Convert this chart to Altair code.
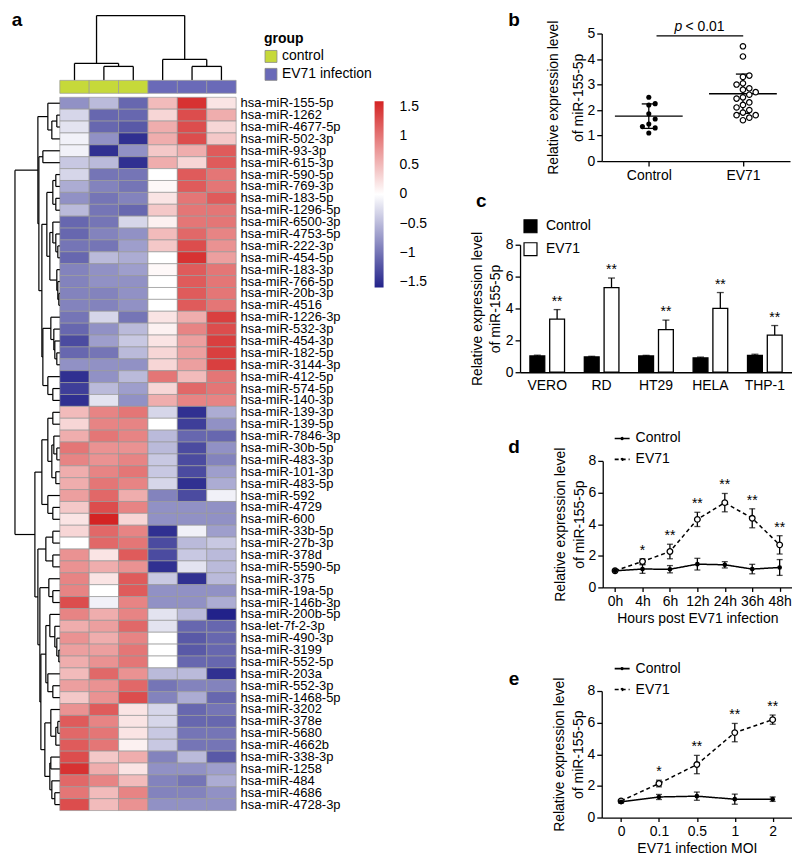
import altair as alt
import pandas as pd

FONT = "Liberation Sans"

# ---------------- panel a data ----------------
genes = ["hsa-miR-155-5p", "hsa-miR-1262", "hsa-miR-4677-5p", "hsa-miR-502-3p", "hsa-miR-93-3p",
         "hsa-miR-615-3p", "hsa-miR-590-5p", "hsa-miR-769-3p", "hsa-miR-183-5p", "hsa-miR-1296-5p",
         "hsa-miR-6500-3p", "hsa-miR-4753-5p", "hsa-miR-222-3p", "hsa-miR-454-5p", "hsa-miR-183-3p",
         "hsa-miR-766-5p", "hsa-miR-20b-3p", "hsa-miR-4516", "hsa-miR-1226-3p", "hsa-miR-532-3p",
         "hsa-miR-454-3p", "hsa-miR-182-5p", "hsa-miR-3144-3p", "hsa-miR-412-5p", "hsa-miR-574-5p",
         "hsa-miR-140-3p", "hsa-miR-139-3p", "hsa-miR-139-5p", "hsa-miR-7846-3p", "hsa-miR-30b-5p",
         "hsa-miR-483-3p", "hsa-miR-101-3p", "hsa-miR-483-5p", "hsa-miR-592", "hsa-miR-4729",
         "hsa-miR-600", "hsa-miR-33b-5p", "hsa-miR-27b-3p", "hsa-miR-378d", "hsa-miR-5590-5p",
         "hsa-miR-375", "hsa-miR-19a-5p", "hsa-miR-146b-3p", "hsa-miR-200b-5p", "hsa-let-7f-2-3p",
         "hsa-miR-490-3p", "hsa-miR-3199", "hsa-miR-552-5p", "hsa-miR-203a", "hsa-miR-552-3p",
         "hsa-miR-1468-5p", "hsa-miR-3202", "hsa-miR-378e", "hsa-miR-5680", "hsa-miR-4662b",
         "hsa-miR-338-3p", "hsa-miR-1258", "hsa-miR-484", "hsa-miR-4686", "hsa-miR-4728-3p"]
samples = ["C1", "C2", "C3", "E1", "E2", "E3"]
sample_groups = ["control", "control", "control", "EV71 infection", "EV71 infection", "EV71 infection"]
group_names = ["control", "EV71 infection"]

heat_values = [
    [-0.8, -0.5, -1.1, 0.5, 1.5, 0.2],
    [-0.3, -1.1, -1.1, 0.3, 1.3, 0.6],
    [-0.2, -1.1, -1.2, 0.6, 1.3, 0.3],
    [-0.1, -0.8, -1.5, 0.6, 1.3, 0.4],
    [-0.1, -1.5, -0.8, 0.4, 0.6, 1.2],
    [-0.4, -0.5, -1.5, 0.6, 0.3, 1.2],
    [-0.3, -1.0, -1.0, 0.0, 1.2, 1.0],
    [-0.6, -0.9, -1.0, 0.05, 1.2, 1.0],
    [-0.8, -1.0, -0.9, 0.2, 1.0, 1.2],
    [-0.5, -1.0, -1.1, 0.4, 1.0, 1.0],
    [-1.1, -1.0, -0.3, 0.1, 1.0, 1.0],
    [-1.1, -0.9, -0.8, 0.5, 1.1, 0.9],
    [-1.0, -1.0, -0.7, 0.4, 1.3, 0.8],
    [-1.1, -0.5, -0.6, 0.0, 1.5, 0.7],
    [-0.9, -0.8, -0.7, 0.05, 1.2, 1.0],
    [-0.9, -0.8, -0.8, 0.0, 1.2, 1.0],
    [-0.9, -0.9, -0.8, 0.0, 1.2, 1.0],
    [-0.9, -0.9, -0.8, 0.0, 1.2, 1.0],
    [-1.0, -0.3, -1.0, 0.2, 0.6, 1.4],
    [-1.1, -0.8, -0.5, 0.1, 0.9, 1.3],
    [-1.3, -0.7, -0.4, 0.2, 0.7, 1.4],
    [-1.1, -1.0, -0.5, 0.3, 0.7, 1.4],
    [-0.8, -0.8, -0.8, 0.3, 0.7, 1.4],
    [-1.5, -0.8, -0.5, 1.0, 0.5, 1.0],
    [-1.4, -0.5, -0.7, 0.3, 1.1, 1.0],
    [-1.5, -0.2, -0.8, 0.6, 0.9, 0.9],
    [0.5, 0.9, 1.0, -0.3, -1.5, -0.6],
    [0.3, 0.9, 0.9, 0.0, -1.4, -0.8],
    [0.6, 1.0, 0.9, -0.5, -1.1, -1.1],
    [1.0, 0.8, 0.8, -0.5, -1.3, -0.8],
    [0.9, 0.8, 0.9, -0.4, -1.3, -0.9],
    [0.6, 0.9, 1.0, -0.4, -1.3, -0.7],
    [0.6, 1.0, 0.9, -0.3, -1.5, -0.6],
    [0.7, 1.1, 0.6, -0.9, -1.3, -0.1],
    [0.4, 1.3, 0.9, -0.8, -0.8, -0.8],
    [0.2, 1.6, 0.3, -0.8, -0.8, -0.8],
    [0.3, 1.1, 0.9, -1.5, -0.1, -0.7],
    [0.0, 1.1, 1.0, -1.3, -0.5, -0.4],
    [0.8, 0.2, 1.2, -1.3, -0.4, -0.5],
    [0.8, 0.6, 0.8, -1.5, -0.2, -0.5],
    [0.9, 0.2, 1.2, -0.4, -1.5, -0.5],
    [0.9, 0.0, 1.2, -0.8, -0.8, -0.8],
    [1.3, -0.1, 0.9, -0.8, -0.8, -0.6],
    [0.9, 0.6, 0.9, -0.2, -0.5, -1.6],
    [0.6, 0.7, 1.1, -0.2, -1.1, -1.1],
    [0.8, 0.6, 0.9, 0.0, -1.2, -1.1],
    [0.7, 0.7, 1.0, 0.0, -1.2, -1.1],
    [0.6, 0.8, 1.0, 0.0, -1.1, -1.1],
    [0.5, 1.1, 0.8, -0.5, -0.5, -1.5],
    [0.7, 0.8, 1.1, -1.0, -0.9, -0.9],
    [0.4, 0.8, 1.3, -0.9, -0.6, -1.1],
    [0.8, 1.2, 0.2, -0.3, -1.1, -1.0],
    [1.2, 0.9, 0.2, -0.3, -1.1, -1.1],
    [1.1, 1.0, 0.2, -0.4, -1.0, -1.0],
    [1.2, 1.0, 0.1, -0.4, -1.0, -1.0],
    [1.3, 0.4, 0.6, -0.9, -0.5, -1.2],
    [1.5, 0.6, 0.2, -0.8, -0.8, -0.7],
    [1.1, 0.9, 0.5, -0.9, -1.0, -0.6],
    [1.0, 0.5, 0.9, -0.9, -0.9, -0.8],
    [1.3, 0.5, 0.8, -0.8, -0.8, -0.8],
]
legend_values = [-1.5, -1, -0.5, 0, 0.5, 1, 1.5]

# dendrograms: [left, right, merge height]; leaves are 1-based positions
row_top = [[1, [[2, 3, 3], 4, 8], 12],
           [[5, 6, 17],
            [[[[7, 8, 4], [9, 10, 4], 7],
              [[11, [12, [13, 14, 2], 4], 7], [15, [16, [17, 18, 1], 2], 3], 10], 13],
             [[19, [20, [21, [22, 23, 3], 5], 6], 9], [24, [25, 26, 7], 12], 17], 18], 21], 22]
row_bottom = [[[[27, 28, 7], [[29, [30, 31, 3], 6], [32, 33, 4], 8], 12], [34, [35, 36, 7], 12], 18],
              [[[37, 38, 7], [39, 40, 7], 14],
               [[41, [42, 43, 7], 11],
                [[[44, [45, [46, [47, 48, 1], 3], 5], 10], [49, [50, 51, 7], 12], 14],
                 [[52, [[53, 54, 2], 55, 4], 9], [[56, 57, 9], [58, [59, 60, 5], 8], 10], 15], 19],
                20], 22], 25]
row_tree = [row_top, row_bottom, 45]
col_tree = [[1, [2, 3, 14], 17], [4, [5, 6, 14], 21], 65]

# ---------------- panel b data ----------------
b_groups = ["Control", "EV71"]
b_control = [2.5, 2.25, 2.2, 1.85, 1.65, 1.45, 1.35, 1.3, 1.1]
b_ev71 = [4.5, 4.1, 3.35, 3.3, 3.05, 3.0, 2.85, 2.8, 2.7, 2.6, 2.5, 2.45, 2.3, 2.2, 2.1,
          2.0, 1.9, 1.8, 1.8, 1.7, 1.6]
b_mean = [1.76, 2.64]
b_sd = [0.48, 0.77]

# ---------------- panel c data ----------------
c_cells = ["VERO", "RD", "HT29", "HELA", "THP-1"]
c_control = [1.02, 0.96, 1.02, 0.9, 1.06]
c_control_err = [0.05, 0.04, 0.04, 0.05, 0.07]
c_ev71 = [3.33, 5.31, 2.67, 4.0, 2.33]
c_ev71_err = [0.6, 0.6, 0.6, 1.0, 0.6]
c_sig = ["**", "**", "**", "**", "**"]

# ---------------- panel d data ----------------
d_times = ["0h", "4h", "6h", "12h", "24h", "36h", "48h"]
d_control = [1.05, 1.16, 1.15, 1.47, 1.43, 1.16, 1.26]
d_control_err = [0.05, 0.27, 0.23, 0.37, 0.2, 0.3, 0.5]
d_ev71 = [1.05, 1.64, 2.27, 4.3, 5.36, 4.37, 2.69]
d_ev71_err = [0.05, 0.17, 0.46, 0.45, 0.58, 0.6, 0.58]
d_sig = ["", "*", "**", "**", "**", "**", "**"]

# ---------------- panel e data ----------------
e_moi = ["0", "0.1", "0.5", "1", "2"]
e_control = [0.99, 1.3, 1.35, 1.16, 1.16]
e_control_err = [0.08, 0.16, 0.26, 0.32, 0.14]
e_ev71 = [1.05, 2.15, 3.35, 5.37, 6.19]
e_ev71_err = [0.08, 0.21, 0.58, 0.58, 0.29]
e_sig = ["", "*", "**", "**", "**"]


# ================= helpers =================
def spacer(w, h):
    return alt.Chart(pd.DataFrame({"s": [0]})).mark_point(opacity=0).encode(
        x=alt.value(0), y=alt.value(0)).properties(width=w, height=h)


def letter(t, px, py):
    return alt.Chart(pd.DataFrame({"t": [t]})).mark_text(
        font=FONT, fontSize=19, fontWeight="bold", align="center", baseline="middle", color="black"
    ).encode(text="t:N", x=alt.value(px), y=alt.value(py))


def dendro_segments(node, segs):
    if isinstance(node, int):
        return node - 0.5, 0.0
    a, b, h = node
    pa, ha = dendro_segments(a, segs)
    pb, hb = dendro_segments(b, segs)
    segs.append(dict(p1=pa, p2=pa, h1=ha, h2=h))
    segs.append(dict(p1=pb, p2=pb, h1=hb, h2=h))
    segs.append(dict(p1=pa, p2=pb, h1=h, h2=h))
    return (pa + pb) / 2, h


def yaxis(title, values, lh, pad, offset):
    return alt.Axis(title=title, values=values, grid=False, domainColor="black", domainWidth=1.3,
                    tickColor="black", tickWidth=1.3, tickSize=5, labelFontSize=14, labelColor="black",
                    labelFont=FONT, labelPadding=2, titleFontSize=14, titleFontWeight="normal",
                    titleColor="black", titleFont=FONT, titleLineHeight=lh, titlePadding=pad,
                    offset=offset)


def xaxis(title=None, **kw):
    props = dict(title=title, grid=False, domainColor="black", domainWidth=1.3, ticks=True,
                 tickColor="black", tickWidth=1.3, tickSize=4, labelFontSize=14, labelColor="black",
                 labelFont=FONT, labelAngle=0, labelPadding=3, titleFontSize=14,
                 titleFontWeight="normal", titleColor="black", titleFont=FONT, titlePadding=3)
    props.update(kw)
    return alt.Axis(**props)


def swarm(vals, ppu_y, ppu_x, d=6.4):
    order = sorted(range(len(vals)), key=lambda i: vals[i])
    cands = [0.0]
    for k in range(1, 8):
        cands += [k * d, -k * d]
    placed, offs = [], [0.0] * len(vals)
    for i in order:
        y = vals[i] * ppu_y
        for c in cands:
            if all((c - px) ** 2 + (y - py) ** 2 >= d * d for px, py in placed):
                placed.append((c, y))
                offs[i] = c / ppu_x
                break
    return offs


Y_TITLE = ["Relative expression level", "of miR-155-5p"]
FULL_W = 784

# ================= panel a (one layered chart) =================
A_X = [49, 226]          # heatmap columns
HEAT_Y = [88, 804]       # heatmap rows
heat_df = pd.DataFrame([dict(gene=g, sample=s, value=v)
                        for g, row in zip(genes, heat_values) for s, v in zip(samples, row)])
heatmap = alt.Chart(heat_df).mark_rect(stroke="#999999", strokeWidth=0.7).encode(
    x=alt.X("sample:N", sort=samples, axis=None,
            scale=alt.Scale(range=A_X, paddingInner=0, paddingOuter=0)),
    y=alt.Y("gene:N", sort=genes, scale=alt.Scale(range=HEAT_Y, paddingInner=0, paddingOuter=0),
            axis=alt.Axis(orient="right", title=None, ticks=False, domain=False, labelFontSize=13,
                          labelFont=FONT, labelColor="black", labelPadding=4, labelLimit=0)),
    color=alt.Color("value:Q",
                    scale=alt.Scale(domain=[-1.6, 0, 1.6], range=["#22228a", "#ffffff", "#d42424"],
                                    interpolate="rgb"),
                    legend=alt.Legend(orient="none", legendX=365, legendY=92, direction="vertical",
                                      gradientLength=187, gradientThickness=9, values=legend_values,
                                      labelExpr="replace(format(datum.value, '.1f'), '.0', '')",
                                      title=None, labelFontSize=14, labelFont=FONT,
                                      labelColor="black", labelOffset=16, gradientStrokeWidth=0)),
)

grp_df = pd.DataFrame(dict(sample=samples, group=sample_groups, bar=["group"] * 6))
group_bar = alt.Chart(grp_df).mark_rect(stroke="#999999", strokeWidth=0.7).encode(
    x=alt.X("sample:N", sort=samples, axis=None,
            scale=alt.Scale(range=A_X, paddingInner=0, paddingOuter=0)),
    y=alt.Y("bar:N", axis=None, scale=alt.Scale(range=[71, 84], paddingInner=0, paddingOuter=0)),
    fill=alt.Fill("group:N", scale=alt.Scale(domain=group_names, range=["#c6d93a", "#6a6ab8"]),
                  legend=alt.Legend(orient="none", legendX=254, legendY=23, title="group",
                                    titleFontSize=14, titleFontWeight="bold", titleFont=FONT,
                                    titleColor="black", titlePadding=3, labelFontSize=14,
                                    labelFont=FONT, labelColor="black", symbolType="square",
                                    symbolSize=144, symbolStrokeColor="#888888",
                                    symbolStrokeWidth=0.8, rowPadding=2, labelOffset=4)),
)

segs = []
dendro_segments(col_tree, segs)
col_seg_df = pd.DataFrame(segs)
top_dendro = alt.Chart(col_seg_df).mark_rule(color="black", strokeWidth=1.3).encode(
    x=alt.X("p1:Q", scale=alt.Scale(domain=[0, 6], range=A_X, nice=False, zero=False), axis=None),
    x2="p2:Q",
    y=alt.Y("h1:Q", scale=alt.Scale(domain=[0, 71], range=[71, 0], nice=False), axis=None),
    y2="h2:Q")

segs = []
dendro_segments(row_tree, segs)
row_seg_df = pd.DataFrame(segs)
left_dendro = alt.Chart(row_seg_df).mark_rule(color="black", strokeWidth=1.2).encode(
    y=alt.Y("p1:Q", scale=alt.Scale(domain=[0, 60], range=HEAT_Y, nice=False, zero=False), axis=None),
    y2="p2:Q",
    x=alt.X("h1:Q", scale=alt.Scale(domain=[0, 49], range=[49, 0], nice=False), axis=None),
    x2="h2:Q")

panel_a = alt.layer(top_dendro, group_bar, heatmap, left_dendro, letter("a", 6, 10)).resolve_scale(
    x="independent", y="independent", color="independent", fill="independent"
).properties(width=226, height=24)

# ================= panel b =================
b_rows = []
for name, vals, center in [("Control", b_control, 0.5), ("EV71", b_ev71, 1.5)]:
    for v, o in zip(vals, swarm(vals, 25.6, 94.5)):
        b_rows.append(dict(group=name, xpos=center + o, v=v))
b_pts = pd.DataFrame(b_rows)
b_sum = pd.DataFrame(dict(group=b_groups, xpos=[0.5, 1.5], mean=b_mean,
                          lo=[m - s for m, s in zip(b_mean, b_sd)],
                          hi=[m + s for m, s in zip(b_mean, b_sd)]))
b_sum["m1"] = b_sum["xpos"] - 0.36
b_sum["m2"] = b_sum["xpos"] + 0.36
b_sum["c1"] = b_sum["xpos"] - 0.075
b_sum["c2"] = b_sum["xpos"] + 0.075

B_X0 = 593
bx_scale = alt.Scale(domain=[0, 2], range=[B_X0, B_X0 + 189], nice=False, zero=False)
bx_axis = xaxis(values=[0.5, 1.5], labelExpr="datum.value < 1 ? 'Control' : 'EV71'", tickSize=5)
by = alt.Scale(domain=[0, 5], nice=False)
by_axis = yaxis(Y_TITLE, [0, 1, 2, 3, 4, 5], 25, 2, -B_X0)


def BX(f):
    return alt.X(f, scale=bx_scale, axis=bx_axis)


def BY(f):
    return alt.Y(f, scale=by, axis=by_axis)


b_annot = pd.DataFrame(dict(x1=[0.582], x2=[1.503], y=[4.91]))
b_ptxt = pd.DataFrame(dict(x=[0.815], y=[5.27], t=["p"]))
b_ltxt = pd.DataFrame(dict(x=[0.889], y=[5.27], t=["< 0.01"]))
panel_b = alt.layer(
    alt.Chart(b_sum).mark_rule(color="black", strokeWidth=1.4).encode(x=BX("m1:Q"), x2="m2:Q", y=BY("mean:Q")),
    alt.Chart(b_sum).mark_rule(color="black", strokeWidth=1.3).encode(x=BX("xpos:Q"), y=BY("lo:Q"), y2="hi:Q"),
    alt.Chart(b_sum).mark_rule(color="black", strokeWidth=1.3).encode(x=BX("c1:Q"), x2="c2:Q", y=BY("hi:Q")),
    alt.Chart(b_sum).mark_rule(color="black", strokeWidth=1.3).encode(x=BX("c1:Q"), x2="c2:Q", y=BY("lo:Q")),
    alt.Chart(b_pts).transform_filter("datum.group == 'Control'").mark_circle(
        color="black", size=26, opacity=1).encode(x=BX("xpos:Q"), y=BY("v:Q")),
    alt.Chart(b_pts).transform_filter("datum.group == 'EV71'").mark_point(
        shape="circle", filled=True, fill="white", stroke="black", strokeWidth=1.2, size=30,
        opacity=1).encode(x=BX("xpos:Q"), y=BY("v:Q")),
    alt.Chart(b_annot).mark_rule(color="black", strokeWidth=1.3).encode(x=BX("x1:Q"), x2="x2:Q", y=BY("y:Q")),
    alt.Chart(b_ptxt).mark_text(font=FONT, fontSize=14, fontStyle="italic", color="black").encode(
        x=BX("x:Q"), y=BY("y:Q"), text="t:N"),
    alt.Chart(b_ltxt).mark_text(font=FONT, fontSize=14, align="left", color="black").encode(
        x=BX("x:Q"), y=BY("y:Q"), text="t:N"),
    letter("b", 505, -14),
).properties(width=FULL_W, height=128)

# ================= panel c =================
c_rows = []
for cell, v, e in zip(c_cells, c_control, c_control_err):
    c_rows.append(dict(cell=cell, series="Control", v=v, hi=v + e, sig=""))
for cell, v, e, s in zip(c_cells, c_ev71, c_ev71_err, c_sig):
    c_rows.append(dict(cell=cell, series="EV71", v=v, hi=v + e, sig=s))
c_df = pd.DataFrame(c_rows)
series2 = ["Control", "EV71"]
C_X0 = 511
cx = alt.X("cell:N", sort=c_cells,
           scale=alt.Scale(range=[C_X0, C_X0 + 273], paddingInner=0.2727, paddingOuter=0.136),
           axis=xaxis(ticks=False, labelPadding=6))
cxo = alt.XOffset("series:N", sort=series2,
                  scale=alt.Scale(domain=series2, paddingInner=0.25, paddingOuter=0.125))
cy_scale = alt.Scale(domain=[0, 8], nice=False)
cy_axis = yaxis(Y_TITLE, [0, 2, 4, 6, 8], 18, 3, -C_X0)
panel_c = alt.layer(
    alt.Chart(c_df).mark_rule(color="black", strokeWidth=1.3).encode(
        x=cx, xOffset=cxo, y=alt.Y("v:Q", scale=cy_scale, axis=cy_axis), y2="hi:Q"),
    alt.Chart(c_df).mark_tick(color="black", orient="horizontal", size=7, thickness=1.3).encode(
        x=cx, xOffset=cxo, y=alt.Y("hi:Q", scale=cy_scale, axis=cy_axis)),
    alt.Chart(c_df).mark_bar(stroke="black", strokeWidth=1.3).encode(
        x=cx, xOffset=cxo, y=alt.Y("v:Q", scale=cy_scale, axis=cy_axis),
        fill=alt.Fill("series:N", scale=alt.Scale(domain=series2, range=["black", "white"]),
                      legend=alt.Legend(orient="none", legendX=C_X0 + 3, legendY=-26, title=None,
                                        labelFontSize=14, labelFont=FONT, labelColor="black",
                                        symbolType="square", symbolSize=169,
                                        symbolStrokeColor="black", symbolStrokeWidth=1.2,
                                        rowPadding=4, labelOffset=8))),
    alt.Chart(c_df).transform_filter("datum.sig != ''").mark_text(
        font=FONT, fontSize=14, dy=-8, color="black").encode(
        x=cx, xOffset=cxo, y=alt.Y("hi:Q", scale=cy_scale, axis=cy_axis), text="sig:N"),
    letter("c", 472, -44),
).properties(width=FULL_W, height=128)


# ================= panels d & e =================
LEG_PATH = ("M-1,0L1,0M-0.12,0A0.12,0.12,0,1,1,0.12,0A0.12,0.12,0,1,1,-0.12,0")


def line_panel(xs, ctrl, ctrl_err, ev, ev_err, sig, xtitle, let, x0, w, lpos, height, pad):
    rows = []
    for i, (x, v, e) in enumerate(zip(xs, ctrl, ctrl_err)):
        rows.append(dict(x=x, idx=i, series="Control", v=v, lo=v - e, hi=v + e, sig=""))
    for i, (x, v, e, s) in enumerate(zip(xs, ev, ev_err, sig)):
        rows.append(dict(x=x, idx=i, series="EV71", v=v, lo=v - e, hi=v + e, sig=s))
    df = pd.DataFrame(rows)
    X = alt.X("x:O", sort=xs, scale=alt.Scale(type="point", padding=pad, range=[x0, x0 + w]),
              axis=xaxis(xtitle))
    ys = alt.Scale(domain=[0, 8], nice=False)
    ya = yaxis(Y_TITLE, [0, 2, 4, 6, 8], 19, 2, -x0)

    def Y(f):
        return alt.Y(f, scale=ys, axis=ya)

    base = alt.Chart(df)
    return alt.layer(
        base.mark_line(color="black", strokeWidth=1.5).encode(
            x=X, y=Y("v:Q"), order="idx:Q",
            strokeDash=alt.StrokeDash(
                "series:N", scale=alt.Scale(domain=series2, range=[[1, 0], [4, 3]]),
                legend=alt.Legend(orient="none", legendX=x0 + lpos[0], legendY=lpos[1], title=None,
                                  labelFontSize=14, labelFont=FONT, labelColor="black",
                                  symbolType=LEG_PATH, symbolSize=225, symbolStrokeColor="black",
                                  symbolStrokeWidth=1.6, symbolFillColor="black",
                                  rowPadding=5, labelOffset=5))),
        base.mark_rule(color="black", strokeWidth=1.3).encode(x=X, y=Y("lo:Q"), y2="hi:Q"),
        base.mark_tick(color="black", orient="horizontal", size=6, thickness=1.3).encode(x=X, y=Y("lo:Q")),
        base.mark_tick(color="black", orient="horizontal", size=6, thickness=1.3).encode(x=X, y=Y("hi:Q")),
        base.transform_filter("datum.series == 'EV71'").mark_point(
            shape="circle", filled=True, fill="white", stroke="black", strokeWidth=1.3, size=32,
            opacity=1).encode(x=X, y=Y("v:Q")),
        base.transform_filter("datum.series == 'Control'").mark_circle(
            color="black", size=22, opacity=1).encode(x=X, y=Y("v:Q")),
        base.transform_filter("datum.sig != ''").mark_text(
            font=FONT, fontSize=14, dy=-8, color="black").encode(x=X, y=Y("hi:Q"), text="sig:N"),
        letter(let, lpos[2], lpos[3]),
    ).properties(width=FULL_W, height=height)


panel_d = line_panel(d_times, d_control, d_control_err, d_ev71, d_ev71_err, d_sig,
                     "Hours post EV71 infection", "d", 594, 190, (11, -31, 505, -14), 127, 0.45)
panel_e = line_panel(e_moi, e_control, e_control_err, e_ev71, e_ev71_err, e_sig,
                     "EV71 infection MOI", "e", 593, 191, (12, -31, 505, -12), 127, 0.51)

# ================= layout =================
chans = dict(color="independent", fill="independent", strokeDash="independent")
chart = alt.vconcat(
    panel_a,           # occupies the first 24 px of the stack; its content extends further down
    panel_b,
    spacer(10, 84),
    panel_c,
    spacer(10, 89),
    panel_d,
    spacer(10, 104),
    panel_e,
    spacing=0, bounds="flush",
).resolve_scale(**chans).resolve_legend(**chans).properties(padding=0).configure(
    font=FONT).configure_view(stroke=None)

chart.save("out.html", embed_options={"renderer": "svg", "actions": False})
